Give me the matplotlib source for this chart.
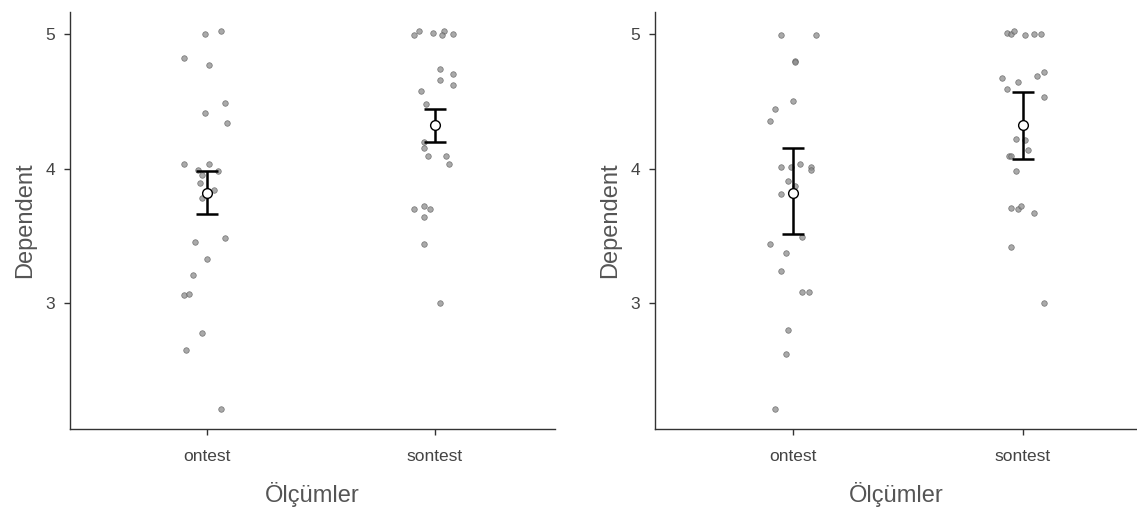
import numpy as np
import matplotlib
matplotlib.use("Agg")
import matplotlib.pyplot as plt

plt.rcParams['font.family'] = ['Liberation Sans', 'DejaVu Sans']

categories = ["ontest", "sontest"]
x_label = "Ölçümler"
y_label = "Dependent"

# panel 1 (standard error) - jitter offset and value of each point
p1_ontest_dx = [-0.01, 0.06, -0.10, 0.01, 0.08, -0.01, 0.09, -0.10, 0.01, 0.05, -0.02, -0.03,
                -0.02, 0.08, -0.05, 0.00, -0.06, -0.10, -0.08, -0.02, -0.09, 0.06, 0.03, -0.04]
p1_ontest_y = [5.00, 5.02, 4.82, 4.77, 4.49, 4.41, 4.34, 4.03, 4.03, 3.98, 3.95, 3.89,
               3.78, 3.48, 3.45, 3.33, 3.21, 3.06, 3.07, 2.78, 2.65, 2.21, 3.84, 3.99]
p1_sontest_dx = [-0.09, -0.07, -0.01, 0.04, 0.03, 0.08, 0.02, 0.08, 0.02, 0.08, -0.06, -0.04,
                 -0.05, -0.05, -0.03, 0.05, 0.06, -0.09, -0.05, -0.02, -0.05, -0.05, 0.02, 0.00]
p1_sontest_y = [4.99, 5.02, 5.01, 5.02, 4.99, 5.00, 4.74, 4.70, 4.66, 4.62, 4.58, 4.48,
                4.20, 4.15, 4.09, 4.09, 4.03, 3.70, 3.72, 3.70, 3.64, 3.44, 3.00, 4.32]

# panel 2 (confidence interval)
p2_ontest_dx = [-0.05, 0.10, 0.01, 0.01, 0.00, -0.08, -0.10, -0.05, -0.01, 0.03, 0.08, 0.08,
                -0.02, 0.01, -0.05, 0.04, -0.10, -0.03, -0.05, 0.04, 0.07, -0.02, -0.03, -0.08]
p2_ontest_y = [4.99, 4.99, 4.80, 4.79, 4.50, 4.44, 4.35, 4.01, 4.01, 4.03, 4.01, 3.99,
               3.91, 3.87, 3.81, 3.49, 3.44, 3.37, 3.24, 3.08, 3.08, 2.80, 2.62, 2.21]
p2_sontest_dx = [-0.07, -0.05, -0.04, 0.01, 0.05, 0.08, -0.09, -0.02, 0.06, 0.09, -0.07, 0.09,
                 -0.03, 0.01, 0.02, -0.06, -0.05, -0.03, -0.05, -0.02, -0.01, 0.05, -0.05, 0.09]
p2_sontest_y = [5.01, 5.00, 5.02, 4.99, 5.00, 5.00, 4.67, 4.64, 4.69, 4.72, 4.59, 4.53,
                4.22, 4.21, 4.14, 4.09, 4.09, 3.98, 3.71, 3.70, 3.72, 3.67, 3.42, 3.00]

# mean with error bars (panel 1: standard error, panel 2: 95% CI)
p1_mean = [3.82, 4.32]
p1_low = [3.66, 4.20]
p1_high = [3.98, 4.44]
p2_mean = [3.82, 4.32]
p2_low = [3.51, 4.07]
p2_high = [4.15, 4.57]

W, H = 1137, 509
fig = plt.figure(figsize=(W / 100, H / 100), dpi=100)
ax1 = fig.add_axes([70 / W, 1 - 429 / H, 485 / W, 417 / H])
ax2 = fig.add_axes([655 / W, 1 - 429 / H, 482 / W, 417 / H])

axis_col = '#333333'


def draw_panel(ax, dxs, ys, mean, low, high, xmax):
    pos = np.arange(1, len(categories) + 1)
    for p, dx, y in zip(pos, dxs, ys):
        ax.scatter(p + np.array(dx), y, s=16, facecolor='#8c8c8c', edgecolor='#555555',
                   linewidths=0.5, alpha=0.75, zorder=2)
    mean = np.array(mean)
    err = [mean - np.array(low), np.array(high) - mean]
    ax.errorbar(pos, mean, yerr=err, fmt='none', ecolor='black', elinewidth=1.8,
                capsize=8, capthick=1.8, zorder=3)
    ax.plot(pos, mean, 'o', ms=7, mfc='white', mec='black', mew=1.0, zorder=4)

    ax.set_xlim(0.4, xmax)
    ax.set_ylim(2.063, 5.164)
    ax.set_xticks(pos)
    ax.set_xticklabels(categories)
    ax.set_yticks([3, 4, 5])
    for s in ['top', 'right']:
        ax.spines[s].set_visible(False)
    for s in ['left', 'bottom']:
        ax.spines[s].set_color(axis_col)
        ax.spines[s].set_linewidth(1.0)
    ax.tick_params(colors=axis_col, labelcolor='#444444', labelsize=12.5, length=4, width=1)
    ax.tick_params(axis='x', pad=10.5)
    ax.tick_params(axis='y', pad=6.5)
    ax.set_xlabel(x_label, fontsize=17, color='#555555', labelpad=13)
    ax.set_ylabel(y_label, fontsize=17, color='#555555', labelpad=7)


draw_panel(ax1, [p1_ontest_dx, p1_sontest_dx], [p1_ontest_y, p1_sontest_y],
           p1_mean, p1_low, p1_high, 2.526)
draw_panel(ax2, [p2_ontest_dx, p2_sontest_dx], [p2_ontest_y, p2_sontest_y],
           p2_mean, p2_low, p2_high, 2.496)

fig.savefig("out.png", dpi=100)
